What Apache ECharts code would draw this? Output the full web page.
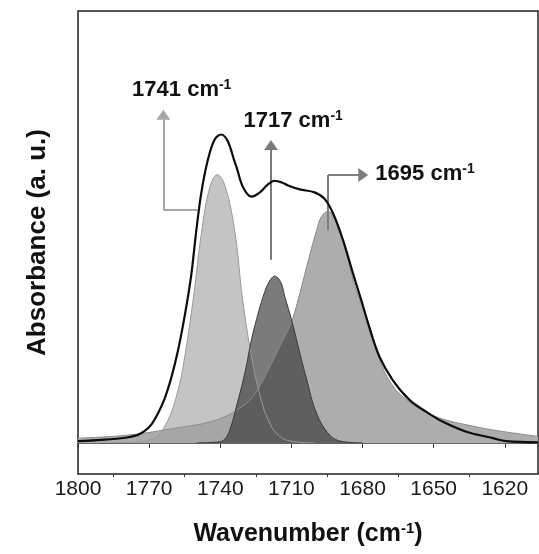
<!DOCTYPE html>
<html>
<head>
<meta charset="utf-8">
<style>
  html, body { margin: 0; padding: 0; background: #fff; }
  #chart { width: 539px; height: 554px; }
</style>
<script src="https://cdn.jsdelivr.net/npm/echarts@6/dist/echarts.min.js"></script>
</head>
<body>
<div id="chart"></div>
<script>
// measured spectrum (black line)
const spectrumWn = [1800, 1790, 1780, 1775, 1772, 1769, 1766.3, 1763.5, 1760.7, 1757.9, 1755, 1752.3, 1750.2, 1748, 1745.2, 1742.4, 1739.6, 1736.8, 1734, 1733.1, 1730.4, 1726.8, 1723.3, 1720, 1717, 1714, 1711.4, 1706.5, 1700.2, 1696, 1692.4, 1688.2, 1684, 1680.5, 1677, 1672.8, 1667.2, 1660.1, 1653.1, 1646.1, 1636.2, 1625, 1619.4, 1606];
const spectrumAbs = [0.004, 0.007, 0.012, 0.018, 0.027, 0.043, 0.068, 0.102, 0.150, 0.212, 0.294, 0.386, 0.487, 0.579, 0.656, 0.702, 0.714, 0.698, 0.652, 0.638, 0.592, 0.570, 0.580, 0.598, 0.607, 0.603, 0.596, 0.587, 0.580, 0.565, 0.531, 0.469, 0.392, 0.330, 0.265, 0.199, 0.145, 0.099, 0.072, 0.049, 0.026, 0.011, 0.004, 0.001];

// fitted bands
const band1741Wn = [1790, 1775, 1768, 1765, 1761.2, 1758, 1755.6, 1751.4, 1747.9, 1744.5, 1741.3, 1738, 1733.8, 1730.6, 1726.1, 1722, 1719.5, 1716.3, 1711, 1700];
const band1741Abs = [0, 0.002, 0.010, 0.025, 0.063, 0.118, 0.179, 0.333, 0.487, 0.590, 0.621, 0.595, 0.487, 0.333, 0.179, 0.085, 0.050, 0.022, 0.005, 0];

const band1717Wn = [1750, 1741, 1738.2, 1736, 1733.1, 1729.6, 1726.8, 1724.7, 1721.9, 1719.5, 1717, 1714.5, 1712.8, 1710, 1707.2, 1703.6, 1699.4, 1693.8, 1688.2, 1680];
const band1717Abs = [0, 0.002, 0.008, 0.030, 0.086, 0.163, 0.240, 0.286, 0.339, 0.372, 0.386, 0.372, 0.339, 0.286, 0.225, 0.148, 0.069, 0.018, 0.003, 0];

const band1695Wn = [1800, 1779, 1758, 1744, 1736, 1732.6, 1727.5, 1723, 1719.1, 1714.5, 1710, 1706.5, 1703.6, 1699.4, 1697.3, 1694.6, 1691.7, 1689.6, 1686.1, 1682.6, 1677, 1672.8, 1667.2, 1660.1, 1653.1, 1646.1, 1636.2, 1625, 1606];
const band1695Abs = [0.011, 0.018, 0.035, 0.049, 0.066, 0.078, 0.099, 0.135, 0.176, 0.228, 0.280, 0.345, 0.407, 0.492, 0.524, 0.536, 0.520, 0.492, 0.423, 0.353, 0.270, 0.192, 0.132, 0.094, 0.071, 0.055, 0.042, 0.030, 0.015];

const majorTicks = [1800, 1770, 1740, 1710, 1680, 1650, 1620];
const minorTicks = [1785, 1755, 1725, 1695, 1665, 1635];
const peakLabels = ["1741", "1717", "1695"];

const FONT = "'Liberation Sans', Arial, sans-serif";

function zip(xs, ys) {
  return xs.map((x, i) => [x, ys[i]]);
}

function bandSeries(name, wn, abs, fill, border) {
  return {
    name,
    type: "line",
    data: zip(wn, abs),
    smooth: 0.4,
    showSymbol: false,
    silent: true,
    lineStyle: { width: 1, color: border },
    areaStyle: { color: fill, opacity: 1 },
    z: 2,
  };
}

function peakText(label) {
  return `{n|${label} cm}{s|-1}`;
}

const labelRich = {
  n: { fontFamily: FONT, fontSize: 22, fontWeight: "bold", color: "#111", lineHeight: 24 },
  s: { fontFamily: FONT, fontSize: 14, fontWeight: "bold", color: "#111", verticalAlign: "top", lineHeight: 14 },
};

function arrowSeg(from, to, color, withHead) {
  return [
    { coord: from, symbol: "none", lineStyle: { color, width: 2, type: "solid" } },
    { coord: to, symbol: withHead ? "triangle" : "none", symbolSize: [14, 10], itemStyle: { color } },
  ];
}

const chart = echarts.init(document.getElementById("chart"), null, { renderer: "canvas" });

chart.setOption({
  animation: false,
  backgroundColor: "#fff",
  grid: {
    left: 78,
    right: 1,
    top: 11,
    bottom: 80,
    show: true,
    borderColor: "#222",
    borderWidth: 1.5,
    backgroundColor: "transparent",
  },
  xAxis: [
    {
      type: "value",
      min: 1606,
      max: 1800,
      inverse: true,
      name: "{n|Wavenumber (cm}{s|-1}{n|)}",
      nameLocation: "middle",
      nameGap: 47,
      nameTextStyle: {
        rich: {
          n: { fontFamily: FONT, fontSize: 25, fontWeight: "bold", color: "#111", lineHeight: 27 },
          s: { fontFamily: FONT, fontSize: 15, fontWeight: "bold", color: "#111", verticalAlign: "top", lineHeight: 15 },
        },
      },
      axisLine: { show: true, lineStyle: { color: "#333", width: 1 } },
      axisTick: { show: true, inside: false, length: 5, customValues: majorTicks, lineStyle: { color: "#333" } },
      axisLabel: {
        customValues: majorTicks,
        formatter: (v) => String(v),
        fontFamily: FONT,
        fontSize: 21,
        color: "#1a1a1a",
        margin: 5,
      },
      splitLine: { show: false },
    },
    {
      type: "value",
      min: 1606,
      max: 1800,
      inverse: true,
      position: "bottom",
      axisLine: { show: false },
      axisTick: { show: true, inside: false, length: 3, customValues: minorTicks, lineStyle: { color: "#333" } },
      axisLabel: { show: false },
      splitLine: { show: false },
    },
  ],
  yAxis: {
    type: "value",
    min: -0.072,
    max: 1.0,
    name: "Absorbance (a. u.)",
    nameLocation: "middle",
    nameGap: 27,
    nameTextStyle: { fontFamily: FONT, fontSize: 26, fontWeight: "bold", color: "#111" },
    axisLine: { show: false },
    axisTick: { show: false },
    axisLabel: { show: false },
    splitLine: { show: false },
  },
  series: [
    bandSeries("1695", band1695Wn, band1695Abs, "#adadad", "#8a8a8a"),
    bandSeries("1741", band1741Wn, band1741Abs, "rgba(161,161,161,0.63)", "#9a9a9a"),
    bandSeries("1717", band1717Wn, band1717Abs, "rgba(54,54,54,0.66)", "#3a3a3a"),
    {
      name: "spectrum",
      type: "line",
      data: zip(spectrumWn, spectrumAbs),
      smooth: 0.35,
      showSymbol: false,
      silent: true,
      lineStyle: { width: 2.2, color: "#0d0d0d" },
      z: 5,
      markLine: {
        silent: true,
        animation: false,
        label: { show: false },
        data: [
          // baseline
          [
            { coord: [1800, 0], symbol: "none", lineStyle: { color: "#666", width: 1, type: "solid" } },
            { coord: [1606, 0], symbol: "none" },
          ],
          // 1741 elbow arrow
          arrowSeg([1749.7, 0.54], [1764, 0.54], "#a6a6a6", false),
          arrowSeg([1764, 0.54], [1764, 0.76], "#a6a6a6", true),
          // 1717 arrow
          arrowSeg([1718.6, 0.424], [1718.6, 0.69], "#7a7a7a", true),
          // 1695 elbow arrow
          arrowSeg([1694.5, 0.493], [1694.5, 0.62], "#7f7f7f", false),
          arrowSeg([1694.5, 0.62], [1679.7, 0.62], "#7f7f7f", true),
        ],
      },
      markPoint: {
        silent: true,
        symbol: "circle",
        symbolSize: 1,
        itemStyle: { color: "rgba(0,0,0,0)" },
        label: { show: true, position: "right", distance: 0, rich: labelRich },
        data: [
          { coord: [1777.4, 0.817], label: { formatter: peakText(peakLabels[0]) } },
          { coord: [1730.4, 0.746], label: { formatter: peakText(peakLabels[1]) } },
          { coord: [1674.8, 0.622], label: { formatter: peakText(peakLabels[2]) } },
        ],
      },
    },
  ],
});
</script>
</body>
</html>
